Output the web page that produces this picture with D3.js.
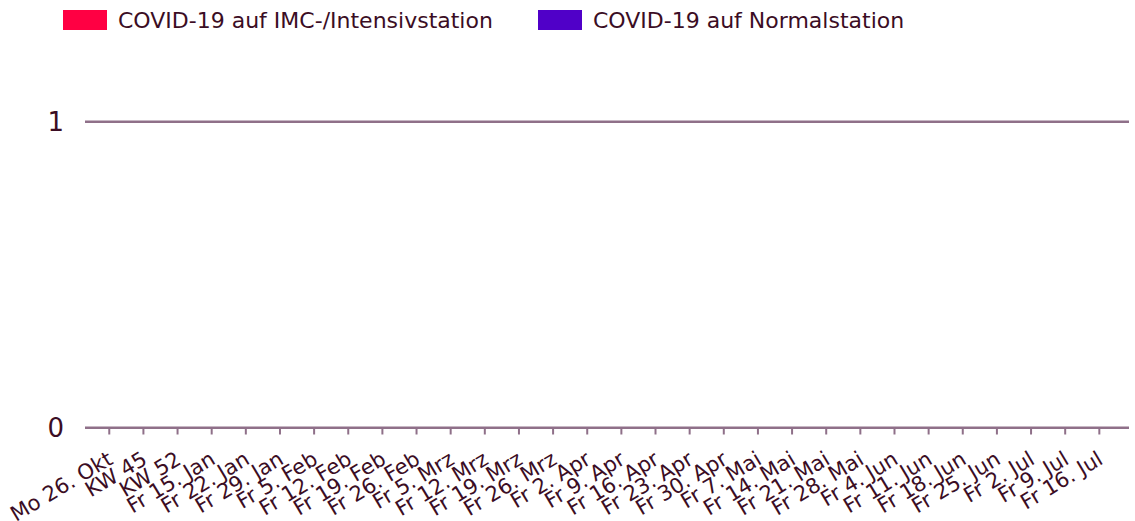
<!DOCTYPE html>
<html>
<head>
<meta charset="utf-8">
<script src="https://cdn.jsdelivr.net/npm/d3@7"></script>
<style>
  html, body { margin: 0; padding: 0; background: #fff; }
  svg { display: block; font-family: 'DejaVu Sans', Verdana, sans-serif; }
</style>
</head>
<body>
<div id="chart"></div>
<script>
var categories = ['Mo 26. Okt', 'KW 45', 'KW 52', 'Fr 15. Jan', 'Fr 22. Jan', 'Fr 29. Jan',
  'Fr 5. Feb', 'Fr 12. Feb', 'Fr 19. Feb', 'Fr 26. Feb', 'Fr 5. Mrz', 'Fr 12. Mrz',
  'Fr 19. Mrz', 'Fr 26. Mrz', 'Fr 2. Apr', 'Fr 9. Apr', 'Fr 16. Apr', 'Fr 23. Apr',
  'Fr 30. Apr', 'Fr 7. Mai', 'Fr 14. Mai', 'Fr 21. Mai', 'Fr 28. Mai', 'Fr 4. Jun',
  'Fr 11. Jun', 'Fr 18. Jun', 'Fr 25. Jun', 'Fr 2. Jul', 'Fr 9. Jul', 'Fr 16. Jul'];
// every week shows zero patients in both wards
var icuValues = [0, 0, 0, 0, 0, 0, 0, 0, 0, 0, 0, 0, 0, 0, 0, 0, 0, 0, 0, 0, 0, 0, 0, 0, 0, 0, 0, 0, 0, 0];
var wardValues = [0, 0, 0, 0, 0, 0, 0, 0, 0, 0, 0, 0, 0, 0, 0, 0, 0, 0, 0, 0, 0, 0, 0, 0, 0, 0, 0, 0, 0, 0];
var seriesNames = ['COVID-19 auf IMC-/Intensivstation', 'COVID-19 auf Normalstation'];
var seriesColors = ['#ff0043', '#5000c8'];
var yTicks = [0, 1];

var width = 1135, height = 521;
var textColor = '#3b0d24', lineColor = '#8f7089';
var plotLeft = 85, plotRight = 1129;

var svg = d3.select('#chart').append('svg')
  .attr('width', width)
  .attr('height', height);

var x = d3.scaleBand()
  .domain(categories)
  .range([92.2, 1116.4])
  .paddingInner(0.2)
  .paddingOuter(0.1);

var y = d3.scaleLinear()
  .domain([0, 1])
  .range([427.7, 121.7]);

// grid lines + y labels
var yAxis = svg.append('g');
yAxis.selectAll('line')
  .data(yTicks)
  .enter().append('line')
  .attr('x1', plotLeft)
  .attr('x2', plotRight)
  .attr('y1', function (d) { return y(d); })
  .attr('y2', function (d) { return y(d); })
  .style('stroke', lineColor)
  .style('stroke-width', 2.4);
yAxis.selectAll('text')
  .data(yTicks)
  .enter().append('text')
  .attr('x', 64)
  .attr('y', function (d) { return y(d); })
  .attr('dy', '0.36em')
  .attr('text-anchor', 'end')
  .style('font-size', '26px')
  .style('fill', textColor)
  .text(function (d) { return d; });

// stacked bars (all zero height)
var rows = categories.map(function (c, i) {
  return { cat: c, icu: icuValues[i], ward: wardValues[i] };
});
var stack = d3.stack().keys(['ward', 'icu'])(rows);
svg.append('g').selectAll('g')
  .data(stack)
  .enter().append('g')
  .style('fill', function (d) { return d.key === 'icu' ? seriesColors[0] : seriesColors[1]; })
  .selectAll('rect')
  .data(function (d) { return d; })
  .enter().append('rect')
  .attr('x', function (d) { return x(d.data.cat); })
  .attr('width', x.bandwidth())
  .attr('y', function (d) { return y(d[1]); })
  .attr('height', function (d) { return y(d[0]) - y(d[1]); });

// x axis ticks and rotated labels
var xAxis = svg.append('g');
xAxis.selectAll('line')
  .data(categories)
  .enter().append('line')
  .attr('x1', function (d) { return x(d) + x.bandwidth() / 2; })
  .attr('x2', function (d) { return x(d) + x.bandwidth() / 2; })
  .attr('y1', 428)
  .attr('y2', 434.5)
  .style('stroke', lineColor)
  .style('stroke-width', 2);
xAxis.selectAll('text')
  .data(categories)
  .enter().append('text')
  .attr('transform', function (d) {
    return 'translate(' + (x(d) + x.bandwidth() / 2 + 5) + ',463) rotate(-31)';
  })
  .attr('text-anchor', 'end')
  .style('font-size', '21px')
  .style('fill', textColor)
  .text(function (d) { return d; });

// legend
var legendX = [63, 538];
var legend = svg.append('g').selectAll('g')
  .data(seriesNames)
  .enter().append('g')
  .attr('transform', function (d, i) { return 'translate(' + legendX[i] + ',10)'; });
legend.append('rect')
  .attr('width', 44)
  .attr('height', 20)
  .style('fill', function (d, i) { return seriesColors[i]; });
legend.append('text')
  .attr('x', 55)
  .attr('y', 10)
  .attr('dy', '0.36em')
  .style('font-size', '22px')
  .style('fill', textColor)
  .text(function (d) { return d; });
</script>
</body>
</html>
